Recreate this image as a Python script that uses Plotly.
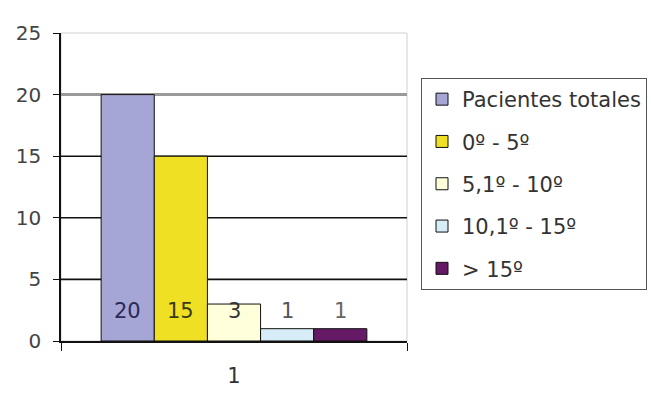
import plotly.graph_objects as go

# Patient counts by range, one bar per group on a single category
category = ["1"]
series_names = ["Pacientes totales", "0º - 5º", "5,1º - 10º", "10,1º - 15º", "> 15º"]
series_values = [20, 15, 3, 1, 1]
series_colors = ["#A6A6D6", "#F0E024", "#FFFFDC", "#D6ECF6", "#661A66"]
label_colors = ["#2A2A55", "#3A3A10", "#333333", "#555555", "#666666"]
y_ticks = [0, 5, 10, 15, 20, 25]

FONT = "DejaVu Sans"
W, H = 651, 394
ML, MR, MT, MB = 61, 244, 33, 53
BARGAP = 0.232

fig = go.Figure()
for name, val, col in zip(series_names, series_values, series_colors):
    fig.add_trace(go.Bar(
        x=category, y=[val], name=name,
        marker=dict(color=col, line=dict(color="#111111", width=1)),
        legendgroup=name,
    ))

# value labels near the base of each bar
n = len(series_values)
bw = (1 - BARGAP) / n
annotations = []
for i, (val, lc) in enumerate(zip(series_values, label_colors)):
    xc = -(1 - BARGAP) / 2 + bw * (i + 0.5)
    annotations.append(dict(
        x=xc, y=2.45, xref="x", yref="y", text=str(val), showarrow=False,
        font=dict(family=FONT, size=21, color=lc),
    ))

shapes = [
    # light frame around plot area
    dict(type="rect", xref="paper", yref="paper", x0=0, x1=1, y0=0, y1=1,
         line=dict(color="#CFCFCF", width=1), layer="below"),
    # gray line at 20
    dict(type="line", xref="paper", yref="y", x0=0, x1=1, y0=20, y1=20,
         line=dict(color="#9A9A9A", width=3), layer="below"),
]
for v in [5, 10, 15]:
    shapes.append(dict(type="line", xref="paper", yref="y", x0=0, x1=1, y0=v, y1=v,
                       line=dict(color="#111111", width=1.6), layer="below"))

fig.update_layout(
    width=W, height=H,
    margin=dict(l=ML, r=MR, t=MT, b=MB, pad=0, autoexpand=False),
    paper_bgcolor="white", plot_bgcolor="white",
    barmode="group", bargap=BARGAP, bargroupgap=0,
    font=dict(family=FONT, size=21, color="#333333"),
    xaxis=dict(
        type="category", showgrid=False, showline=True, linecolor="#111111", linewidth=1.5,
        ticks="outside", tickson="boundaries", ticklen=8, tickcolor="#111111",
        tickfont=dict(family=FONT, size=21, color="#333333"),
        ticklabelstandoff=15, range=[-0.5, 0.5],
    ),
    yaxis=dict(
        range=[0, 25], tickvals=y_ticks, showgrid=False, zeroline=False,
        showline=True, linecolor="#111111", linewidth=1.5,
        ticks="outside", ticklen=6, tickcolor="#111111",
        tickfont=dict(family=FONT, size=20, color="#444444"),
        ticklabelstandoff=8,
    ),
    legend=dict(
        x=(421 - ML) / (W - ML - MR), y=(H - MB - 78) / (H - MT - MB),
        xanchor="left", yanchor="top",
        bgcolor="white", bordercolor="#555555", borderwidth=1,
        font=dict(family=FONT, size=21, color="#333333"),
        traceorder="grouped", tracegroupgap=12,
    ),
    annotations=annotations,
    shapes=shapes,
    showlegend=True,
)

fig.write_html("out.html")
